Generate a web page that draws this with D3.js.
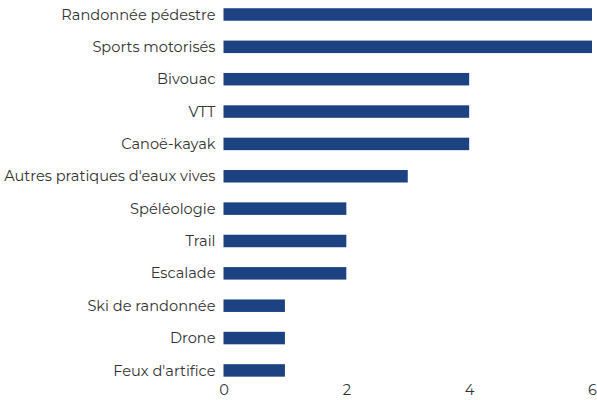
<!DOCTYPE html>
<html>
<head>
<meta charset="utf-8">
<script src="https://cdn.jsdelivr.net/npm/d3@7"></script>
<style>
  body { margin: 0; background: #fff; }
  text { font-family: Montserrat, "DejaVu Sans", sans-serif; fill: #333; }
</style>
</head>
<body>
<div class="chart"></div>
<script>
var categories = ['Randonnée pédestre', 'Sports motorisés', 'Bivouac', 'VTT', 'Canoë-kayak',
    "Autres pratiques d'eaux vives", 'Spéléologie', 'Trail', 'Escalade',
    'Ski de randonnée', 'Drone', "Feux d'artifice"];
var values = [6, 6, 4, 4, 4, 3, 2, 2, 2, 1, 1, 1];
var ticks = [0, 2, 4, 6];

var w = 597, h = 400;

var svg = d3.select('.chart')
    .append('svg')
    .attr('width', w)
    .attr('height', h);

var x = d3.scaleLinear().domain([0, 6]).range([223.5, 592]);
var y = d3.scaleBand()
    .domain(categories)
    .range([-1.7, 386.6])
    .paddingInner(0.614)
    .paddingOuter(0.307);

svg.selectAll('rect')
    .data(values)
    .enter()
    .append('rect')
    .attr('fill', '#1c4282')
    .attr('x', x(0))
    .attr('y', function(d, i) { return y(categories[i]); })
    .attr('width', function(d) { return x(d) - x(0); })
    .attr('height', y.bandwidth());

svg.selectAll('text.cat')
    .data(categories)
    .enter()
    .append('text')
    .attr('class', 'cat')
    .attr('x', x(0) - 8)
    .attr('y', function(d) { return y(d) + y.bandwidth() / 2; })
    .attr('dy', '0.35em')
    .attr('text-anchor', 'end')
    .style('font-size', '14.6px')
    .text(function(d) { return d; });

var xAxis = svg.append('g')
    .attr('transform', 'translate(0,385)')
    .call(d3.axisBottom(x).tickValues(ticks).tickFormat(d3.format('d')).tickSize(0).tickPadding(0));
xAxis.select('.domain').remove();
xAxis.selectAll('text')
    .attr('dy', '0.71em')
    .style('font-size', '14.6px')
    .style('font-family', 'Montserrat, "DejaVu Sans", sans-serif')
    .style('fill', '#333');
</script>
</body>
</html>
